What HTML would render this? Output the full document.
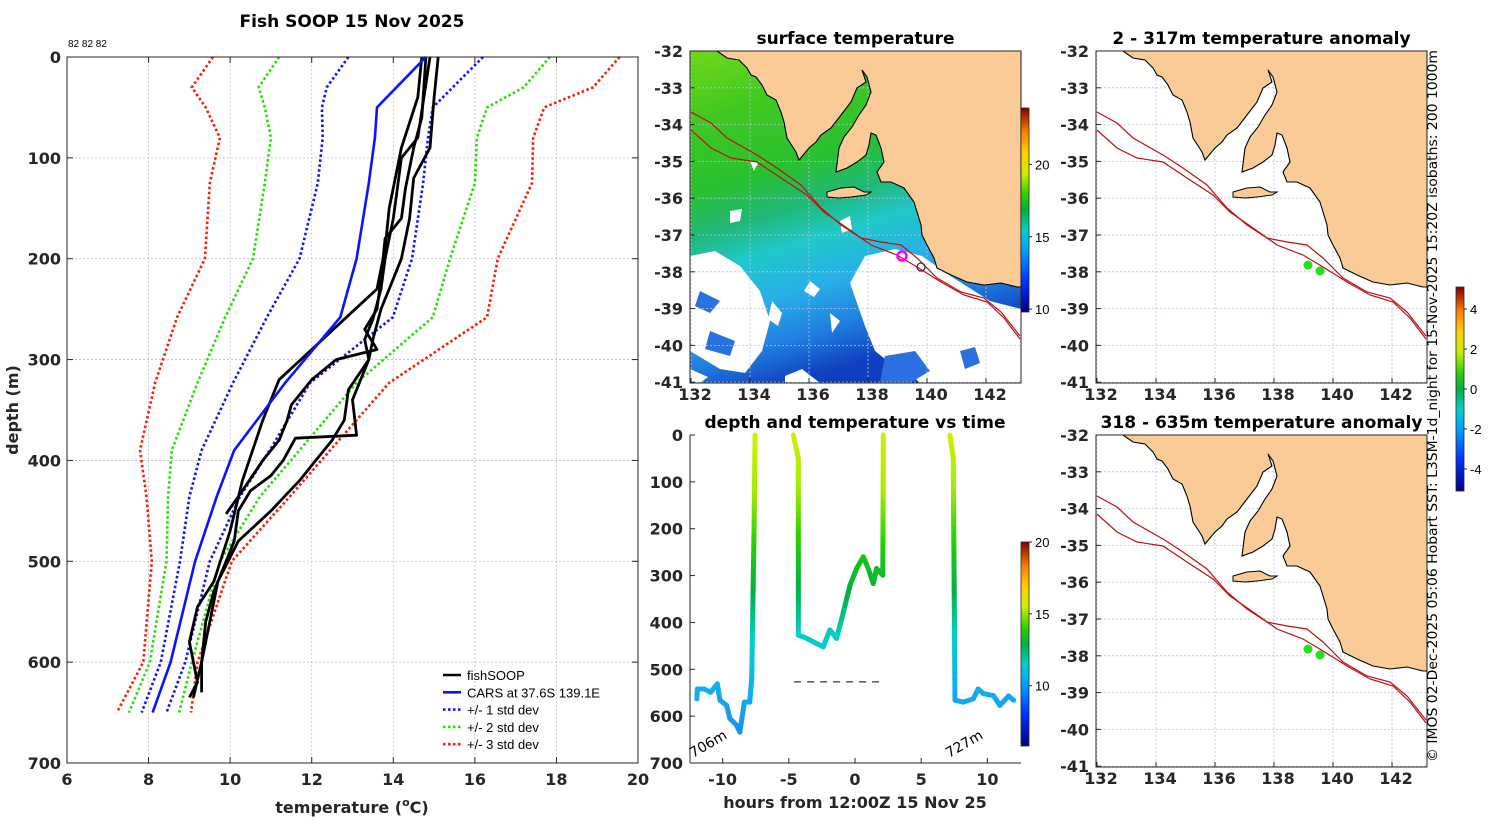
<!DOCTYPE html>
<html><head><meta charset="utf-8"><style>
html,body{margin:0;padding:0;background:#fff}
svg{display:block;font-family:"DejaVu Sans","Liberation Sans",sans-serif}
.b{font-weight:bold;font-size:16px;fill:#262626}
.t{font-weight:bold;font-size:17px;fill:#000}
</style></head><body>
<svg id="fig" width="1500" height="820" viewBox="0 0 1500 820" xmlns="http://www.w3.org/2000/svg">
<defs>
<linearGradient id="cmap" x1="0" y1="1" x2="0" y2="0">
<stop offset="0" stop-color="#00007f"/><stop offset="0.15" stop-color="#0030ff"/><stop offset="0.3" stop-color="#00a0ff"/><stop offset="0.4" stop-color="#00d0d0"/><stop offset="0.5" stop-color="#00b040"/><stop offset="0.58" stop-color="#30d000"/><stop offset="0.68" stop-color="#c8f000"/><stop offset="0.78" stop-color="#ffd000"/><stop offset="0.88" stop-color="#ff8000"/><stop offset="1" stop-color="#800000"/>
</linearGradient>
<linearGradient id="sstfield" x1="0" y1="0" x2="0.3" y2="1">
<stop offset="0" stop-color="#70d818"/><stop offset="0.2" stop-color="#40c820"/><stop offset="0.4" stop-color="#28c030"/><stop offset="0.52" stop-color="#20b878"/><stop offset="0.62" stop-color="#20c8c8"/><stop offset="0.75" stop-color="#28b0e8"/><stop offset="0.88" stop-color="#2080e0"/><stop offset="1" stop-color="#1040c0"/>
</linearGradient>
</defs>
<g id="left"></g>
<g id="maps"></g>
<g id="timep"></g>
<text x="1437" y="762" transform="rotate(-90 1437 762)" font-size="13" font-family="DejaVu Sans, sans-serif" textLength="712" lengthAdjust="spacingAndGlyphs">© IMOS 02-Dec-2025 05:06 Hobart SST: L3SM-1d_night for 15-Nov-2025 15:20Z isobaths: 200  1000m</text>
</svg>
<script>
// ---- profile data ----
const sdDepths=[0,30,50,80,125,200,258,323,390,436,500,600,650];
const redLeft=[9.58,9.06,9.4,9.75,9.5,9.38,8.7,8.16,7.79,7.95,8.08,7.87,7.22];
const greenLeft=[11.2,10.7,10.85,11.0,10.85,10.56,9.88,9.2,8.57,8.48,8.44,8.03,7.52];
const blueLeft=[12.9,12.37,12.25,12.27,12.15,11.7,10.9,10.07,9.3,9.0,8.77,8.3,7.83];
const carsT=[14.8,14.08,13.6,13.55,13.4,13.1,12.7,11.35,10.1,9.67,9.14,8.54,8.1];
const blueRight=[16.2,15.46,14.97,14.85,14.73,14.46,13.99,11.96,10.97,10.24,9.5,8.9,8.44];
const greenRight=[17.84,17.2,16.3,16.05,16.0,15.39,14.97,13.1,11.7,10.73,9.75,9.06,8.75];
const redRight=[19.55,18.9,17.7,17.43,17.4,16.56,16.3,13.9,12.45,11.46,10.04,9.2,9.04];
const fishA=[[0,15.1],[40,15.0],[90,14.9],[120,14.5],[160,14.4],[200,14.2],[230,13.9],[250,13.7],[280,13.5],[300,13.4],[340,13.0],[375,13.1],[378,11.6],[400,11.3],[415,11.0],[430,10.5],[450,10.2],[480,10.1],[500,9.9],[530,9.6],[560,9.4],[600,9.3],[630,9.3]];
const fishB=[[0,14.9],[80,14.6],[100,14.2],[130,14.1],[160,14.0],[200,13.8],[230,13.7],[260,13.5],[280,13.3],[300,13.4],[330,12.9],[360,12.8],[380,12.5],[400,12.1],[420,11.7],[450,11.0],[480,10.2],[520,9.7],[560,9.5],[600,9.3],[635,9.1]];
const fishC=[[0,14.8],[60,14.7],[90,14.5],[130,14.3],[160,14.2],[180,13.8],[220,13.7],[250,13.6],[270,13.3],[290,13.6],[300,12.6],[320,12.0],[345,11.5],[360,11.4],[380,11.2],[400,10.8],[430,10.3],[453,9.9]];
const fishD=[[0,14.7],[40,14.6],[90,14.2],[150,13.9],[190,13.8],[230,13.6],[260,12.8],[275,12.4],[290,12.0],[320,11.2],[360,10.8],[420,10.3],[470,10.0],[520,9.6],[545,9.2],[580,9.0],[620,9.2],[635,9.0]];
const xTicks=[6,8,10,12,14,16,18,20];
const yTicks=[0,100,200,300,400,500,600,700];
// ---- time series data ----
const seg1=[[-11.95,563],[-11.9,542],[-11.4,542],[-10.9,549],[-10.4,531],[-10.2,566],[-9.7,577],[-9.45,605],[-8.95,619],[-8.7,634],[-8.35,570],[-7.95,570],[-7.8,520],[-7.62,192],[-7.55,0]];
const seg2=[[-4.66,0],[-4.28,50],[-4.28,427],[-3.65,434],[-2.9,445],[-2.4,452],[-1.9,416],[-1.4,434],[-1.0,392],[-0.38,321],[0.12,285],[0.63,260],[1.0,285],[1.38,317],[1.63,285],[2.1,299],[2.14,0]];
const seg3=[[7.17,0],[7.42,50],[7.55,566],[8.18,570],[8.94,563],[9.3,542],[9.7,552],[10.45,556],[10.95,577],[11.6,557],[11.98,566]];
const hourTicks=[-10,-5,0,5,10];
const timeDepthTicks=[0,100,200,300,400,500,600,700];
const floorDepth=527;
const floorHours=[-4.6,2.2];
// ---- map overlays (map-relative pixel outlines of the coast) ----
const coast=[[27,0],[37,7],[49,9],[57,17],[61,24],[66,26],[72,34],[77,44],[86,49],[91,61],[94,71],[97,87],[106,101],[109,109],[119,97],[126,91],[131,84],[141,77],[151,64],[161,51],[167,37],[176,31],[172,19],[177,26],[181,41],[176,54],[169,64],[162,76],[154,86],[149,97],[146,121],[157,117],[167,111],[176,104],[179,94],[181,82],[186,84],[191,97],[194,111],[187,121],[191,131],[201,131],[214,137],[224,151],[231,174],[232,184],[237,194],[244,207],[247,217],[261,224],[277,231],[294,234],[311,232],[327,236],[331,236],[331,0]];
const kangaroo=[[137,141],[151,137],[164,136],[174,141],[181,141],[176,144],[161,146],[149,147],[137,146]];
const iso200=[[1,61],[21,72],[37,87],[67,104],[87,117],[111,134],[131,157],[151,174],[171,187],[191,191],[211,194],[227,207],[247,227],[271,241],[294,247],[311,261],[330,285]];
const iso1000=[[1,79],[21,97],[41,107],[67,111],[91,127],[117,144],[134,161],[157,177],[181,194],[207,204],[227,216],[251,231],[274,244],[297,251],[314,267],[330,288]];
const lonTicks=[132,134,136,138,140,142];
const latTicks=[-32,-33,-34,-35,-36,-37,-38,-39,-40,-41];

const NS='http://www.w3.org/2000/svg';
function mk(tag,attrs,parent,txt){const e=document.createElementNS(NS,tag);for(const k in attrs)e.setAttribute(k,attrs[k]);if(txt!==undefined)e.textContent=txt;parent.appendChild(e);return e;}

// ===== left profile panel =====
const L=document.getElementById('left');
const PX0=67,PX1=638,PY0=57,PY1=763;
const xs=t=>PX0+(t-6)/(20-6)*(PX1-PX0);
const ys=d=>PY0+d/700*(PY1-PY0);
const lgrid=mk('g',{},L);


xTicks.forEach(t=>{
 if(t>6&&t<20){mk('line',{x1:xs(t),x2:xs(t),y1:PY0,y2:PY1,stroke:'#b8c4dc','stroke-width':0.8,'stroke-dasharray':'2,2'},lgrid);}
 const lab=mk('text',{x:xs(t),y:785,'text-anchor':'middle',class:'b'},L,String(t));
 
 
 mk('line',{x1:xs(t),x2:xs(t),y1:PY1,y2:PY1-6,stroke:'#262626'},L);
 mk('line',{x1:xs(t),x2:xs(t),y1:PY0,y2:PY0+6,stroke:'#262626'},L);
});
yTicks.forEach(d=>{
 if(d>0&&d<700){mk('line',{x1:PX0,x2:PX1,y1:ys(d),y2:ys(d),stroke:'#c8b8c8','stroke-width':0.8,'stroke-dasharray':'2,2'},lgrid);}
 const lab=mk('text',{x:61,y:ys(d)+6,'text-anchor':'end',class:'b'},L,String(d));
 
 
 mk('line',{x1:PX0,x2:PX0+6,y1:ys(d),y2:ys(d),stroke:'#262626'},L);
 mk('line',{x1:PX1,x2:PX1-6,y1:ys(d),y2:ys(d),stroke:'#262626'},L);
});
function sdLine(arr,color,name){
 const pts=arr.map((t,i)=>xs(t).toFixed(1)+','+ys(sdDepths[i]).toFixed(1)).join(' ');
 const p=mk('polyline',{points:pts,fill:'none',stroke:color,'stroke-width':2.6,'stroke-dasharray':'2.5,2.5'},L);
 
 
}
sdLine(redLeft,'#ff1a00','minus-3-std-line');
sdLine(greenLeft,'#22e000','minus-2-std-line');
sdLine(blueLeft,'#1010ff','minus-1-std-line');
sdLine(blueRight,'#1010ff','plus-1-std-line');
sdLine(greenRight,'#22e000','plus-2-std-line');
sdLine(redRight,'#ff1a00','plus-3-std-line');
[fishA,fishB,fishC,fishD].forEach((pr,i)=>{
 const p=mk('polyline',{points:pr.map(q=>xs(q[1]).toFixed(1)+','+ys(q[0]).toFixed(1)).join(' '),fill:'none',stroke:'#000','stroke-width':2.8,'stroke-linejoin':'round'},L);
 
 
});
const cars=mk('polyline',{points:carsT.map((t,i)=>xs(t).toFixed(1)+','+ys(sdDepths[i]).toFixed(1)).join(' '),fill:'none',stroke:'#0a14ff','stroke-width':2.6},L);


const lframe=mk('rect',{x:PX0,y:PY0,width:PX1-PX0,height:PY1-PY0,fill:'none',stroke:'#262626','stroke-width':1},L);


const lt=mk('text',{x:352,y:27,'text-anchor':'middle',class:'t'},L,'Fish SOOP 15 Nov 2025');


const cnt=mk('text',{x:68,y:47,'font-size':10,'font-family':'Liberation Sans, sans-serif'},L,'82 82 82');


const xl=mk('text',{x:352,y:813,'text-anchor':'middle',class:'b','font-size':17},L);
xl.innerHTML='temperature (<tspan dy="-7" font-size="11">o</tspan><tspan dy="7">C)</tspan>';


const yl=mk('text',{x:18,y:410,'text-anchor':'middle',class:'b',transform:'rotate(-90 18 410)'},L,'depth (m)');


const legItems=[['fishSOOP','#000',''],['CARS at 37.6S 139.1E','#0a14ff',''],['+/- 1 std dev','#1010ff','2.5,2.5'],['+/- 2 std dev','#22e000','2.5,2.5'],['+/- 3 std dev','#ff1a00','2.5,2.5']];
legItems.forEach((it,i)=>{
 const g=mk('g',{},L);
 
 
 const y=675+i*17.3;
 mk('line',{x1:443,x2:461,y1:y,y2:y,stroke:it[1],'stroke-width':2.6,'stroke-dasharray':it[2]||'none'},g);
 mk('text',{x:467,y:y+5,'font-size':13,'font-family':'Liberation Sans, sans-serif'},g,it[0]);
});

// ===== maps =====
const M=document.getElementById('maps');
const MW=331,MH=332;
function drawMap(x0,y0,title,kind){
 const g=mk('g',{transform:`translate(${x0},${y0})`},M);
 
 
 const cid='clip'+kind;
 const cp=mk('clipPath',{id:cid},g);mk('rect',{x:0,y:0,width:MW,height:MH},cp);
 const inner=mk('g',{'clip-path':`url(#${cid})`},g);
 if(kind==='sst'){
  mk('rect',{x:0,y:0,width:MW,height:MH,fill:'url(#sstfield)'},inner);
  const holes=[
   [[0,205],[25,200],[50,215],[70,240],[80,270],[72,300],[55,322],[30,318],[0,300]],
   [[160,232],[175,205],[205,198],[232,205],[262,226],[300,250],[331,258],[331,332],[230,332],[215,318],[200,312],[185,300],[175,275],[168,255]],
   [[82,250],[92,262],[88,275],[78,268]],[[120,230],[130,238],[124,246],[114,240]],[[140,262],[150,270],[142,282]],
   [[95,325],[112,318],[130,332],[95,332]],[[0,318],[18,326],[10,332],[0,332]],
   [[150,170],[160,165],[162,178],[152,182]],[[40,160],[52,158],[50,170],[40,172]],[[60,110],[68,112],[64,120]]];
  holes.forEach(h=>{const w=mk('polygon',{points:h.map(p=>p.join(',')).join(' '),fill:'#fff'},inner);});
  const patches=[[[195,305],[225,300],[240,320],[220,332],[190,332]],[[270,300],[285,296],[290,312],[275,318]],[[10,240],[30,250],[20,262],[5,255]],[[20,280],[45,290],[40,305],[15,298]]];
  patches.forEach(h=>{const w=mk('polygon',{points:h.map(p=>p.join(',')).join(' '),fill:'#2a70e0'},inner);});
 }
 const grid=mk('g',{},inner);
 lonTicks.forEach((ln,i)=>{const x=1+i*59;mk('line',{x1:x,x2:x,y1:0,y2:MH,stroke:'#b8c4e8','stroke-width':0.8,'stroke-dasharray':'2,2'},grid);});
 latTicks.forEach((lt2,i)=>{const y=i*36.8;mk('line',{x1:0,x2:MW,y1:y,y2:y,stroke:'#b8c4e8','stroke-width':0.8,'stroke-dasharray':'2,2'},grid);});
 const land=mk('polygon',{points:coast.map(p=>p.join(',')).join(' '),fill:'#fbcb97',stroke:'#000','stroke-width':1.1},inner);
 
 
 const ki=mk('polygon',{points:kangaroo.map(p=>p.join(',')).join(' '),fill:'#fbcb97',stroke:'#000','stroke-width':1},inner);
 
 
 [iso200,iso1000].forEach((iso,j)=>{
  const l=mk('polyline',{points:iso.map(p=>p.join(',')).join(' '),fill:'none',stroke:'#c01010','stroke-width':1.2},inner);
  
  
 });
 if(kind==='sst'){
  const c1=mk('circle',{cx:212,cy:205,r:4.5,fill:'none',stroke:'#ff00ff','stroke-width':2.5},inner);
  
  const c2=mk('circle',{cx:231,cy:216,r:4,fill:'none',stroke:'#402030','stroke-width':1.2},inner);
  
 } else {
  [[212,214],[224,220]].forEach(d=>{const c=mk('circle',{cx:d[0],cy:d[1],r:4.5,fill:'#20e020'},inner);});
 }
 mk('rect',{x:0,y:0,width:MW,height:MH,fill:'none',stroke:'#262626'},g);
 lonTicks.forEach((ln,i)=>{const x=1+i*59;mk('line',{x1:x,x2:x,y1:MH,y2:MH-5,stroke:'#262626'},g);
  const t=mk('text',{x:x+4,y:MH+17,'text-anchor':'middle',class:'b'},g,String(ln));});
 latTicks.forEach((la,i)=>{const y=i*36.8;mk('line',{x1:0,x2:5,y1:y,y2:y,stroke:'#262626'},g);
  const t=mk('text',{x:-7,y:y+6,'text-anchor':'end',class:'b'},g,String(la));});
 const tt=mk('text',{x:MW/2,y:-7,'text-anchor':'middle',class:'t'},g,title);
 
 
}
drawMap(690,51,'surface temperature','sst');
drawMap(1096,51,'2 - 317m temperature anomaly','anom1');
drawMap(1096,435,'318 - 635m temperature anomaly','anom2');

function colorbar(x,y,h,ticks,vmin,vmax,name){
 const g=mk('g',{},M);
 
 
 mk('rect',{x:x,y:y,width:8,height:h,fill:'url(#cmap)',stroke:'#262626','stroke-width':0.8},g);
 ticks.forEach(v=>{const yy=y+h-(v-vmin)/(vmax-vmin)*h;
  mk('line',{x1:x+8,x2:x+11,y1:yy,y2:yy,stroke:'#262626'},g);
  mk('text',{x:x+14,y:yy+5,'font-size':13,'font-family':'Liberation Sans, sans-serif'},g,String(v));});
}
colorbar(1021,108,204,[10,15,20],9.8,23.9,'sst-colorbar');
colorbar(1021,542,204,[10,15,20],5.8,20,'time-colorbar');
colorbar(1456,287,204,[-4,-2,0,2,4],-5.1,5.1,'anomaly-colorbar');

// ===== time panel =====
const T=document.getElementById('timep');
const TX0=690,TX1=1021,TY0=435,TY1=763;
const hx=h=>855+h*13.24;
const dy=d=>TY0+d/700*(TY1-TY0);
function depthColor(d){
 const stops=[[0,[208,240,0]],[120,[160,235,0]],[220,[40,210,0]],[330,[0,176,64]],[430,[0,208,200]],[540,[16,176,240]],[640,[30,140,240]]];
 for(let i=1;i<stops.length;i++){if(d<=stops[i][0]){const a=stops[i-1],b=stops[i],f=(d-a[0])/(b[0]-a[0]);return 'rgb('+a[1].map((c,k)=>Math.round(c+(b[1][k]-c)*f)).join(',')+')';}}
 return 'rgb(30,140,240)';
}
hourTicks.forEach(h=>{mk('line',{x1:hx(h),x2:hx(h),y1:TY1,y2:TY1-5,stroke:'#262626'},T);
 const t=mk('text',{x:hx(h),y:785,'text-anchor':'middle',class:'b'},T,String(h));});
timeDepthTicks.forEach(d=>{mk('line',{x1:TX0,x2:TX0+5,y1:dy(d),y2:dy(d),stroke:'#262626'},T);
 const t=mk('text',{x:683,y:dy(d)+6,'text-anchor':'end',class:'b'},T,String(d));});
[seg1,seg2,seg3].forEach((s,si)=>{
 const g=mk('g',{},T);
 
 
 for(let i=1;i<s.length;i++){
  const a=s[i-1],b=s[i];const n=Math.max(1,Math.ceil(Math.abs(b[1]-a[1])/15));
  for(let k=0;k<n;k++){const f0=k/n,f1=(k+1)/n;
   const h0=a[0]+(b[0]-a[0])*f0,d0=a[1]+(b[1]-a[1])*f0,h1=a[0]+(b[0]-a[0])*f1,d1=a[1]+(b[1]-a[1])*f1;
   mk('line',{x1:hx(h0),y1:dy(d0),x2:hx(h1),y2:dy(d1),stroke:depthColor((d0+d1)/2),'stroke-width':5,'stroke-linecap':'round'},g);}
 }
});
const fl=mk('line',{x1:hx(floorHours[0]),x2:hx(floorHours[1]),y1:dy(floorDepth),y2:dy(floorDepth),stroke:'#000','stroke-width':1,'stroke-dasharray':'7,6'},T);


mk('line',{x1:TX0,x2:TX0,y1:TY0,y2:TY1,stroke:'#262626'},T);
mk('line',{x1:TX0,x2:TX1,y1:TY1,y2:TY1,stroke:'#262626'},T);
const l1=mk('text',{x:693,y:758,'font-size':14,'font-family':'DejaVu Sans, sans-serif',transform:'rotate(-30 693 758)'},T,'706m');

const l2=mk('text',{x:949,y:758,'font-size':14,'font-family':'DejaVu Sans, sans-serif',transform:'rotate(-30 949 758)'},T,'727m');

const tt=mk('text',{x:855,y:428,'text-anchor':'middle',class:'t'},T,'depth and temperature vs time');

const tx=mk('text',{x:855,y:808,'text-anchor':'middle',class:'b','font-size':17},T,'hours from 12:00Z 15 Nov 25');

</script>
</body></html>
